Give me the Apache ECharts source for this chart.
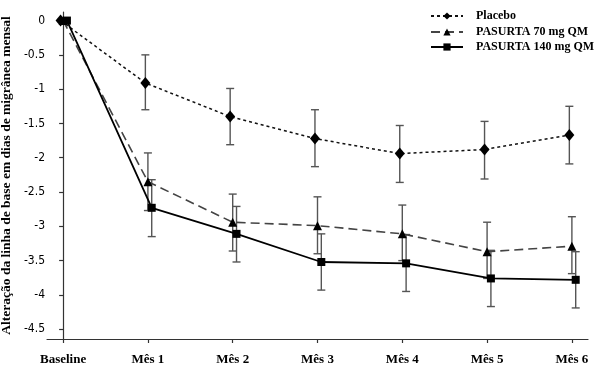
<!DOCTYPE html>
<html>
<head>
<meta charset="utf-8">
<script src="https://cdn.jsdelivr.net/npm/echarts@6/dist/echarts.min.js"></script>
<style>
html,body{margin:0;padding:0;background:#fff;}
#c{width:599px;height:370px;}
</style>
</head>
<body>
<div id="c"></div>
<script>
var categories = ['Baseline', 'Mês 1', 'Mês 2', 'Mês 3', 'Mês 4', 'Mês 5', 'Mês 6'];
var yTicks = [0, -0.5, -1, -1.5, -2, -2.5, -3, -3.5, -4, -4.5];
var seriesNames = ['Placebo', 'PASURTA 70 mg QM', 'PASURTA 140 mg QM'];

var placeboMean = [0, -0.91, -1.40, -1.72, -1.94, -1.88, -1.67];
var placeboHigh = [null, -0.50, -0.99, -1.30, -1.53, -1.47, -1.25];
var placeboLow  = [null, -1.30, -1.81, -2.13, -2.36, -2.31, -2.09];

var p70Mean = [0, -2.35, -2.94, -2.99, -3.11, -3.37, -3.29];
var p70High = [null, -1.93, -2.53, -2.57, -2.69, -2.94, -2.86];
var p70Low  = [null, -2.77, -3.36, -3.40, -3.50, -3.76, -3.69];

var p140Mean = [0, -2.73, -3.11, -3.52, -3.54, -3.76, -3.78];
var p140High = [null, -2.32, -2.71, -3.11, -3.12, -3.35, -3.37];
var p140Low  = [null, -3.15, -3.52, -3.93, -3.95, -4.17, -4.19];

// horizontal dodge of each group (style, in category units)
var offsets = [-0.03, 0.0, 0.045];
// legend row tops (layout)
var legendTops = [10, 26, 41];

function linePoints(mean, off) {
  return mean.map(function (v, i) { return [i + off, v]; });
}
function errPoints(high, low, off) {
  var out = [];
  for (var i = 0; i < high.length; i++) {
    if (high[i] !== null && low[i] !== null) out.push([i + off, high[i], low[i]]);
  }
  return out;
}
function errSeries(high, low, off) {
  return {
    type: 'custom',
    silent: true,
    z: 1,
    data: errPoints(high, low, off),
    encode: { x: 0, y: [1, 2] },
    renderItem: function (params, api) {
      var x = api.value(0);
      var hi = api.coord([x, api.value(1)]);
      var lo = api.coord([x, api.value(2)]);
      var cw = 4;
      var st = { stroke: '#555', lineWidth: 1.4, fill: null };
      return {
        type: 'group',
        children: [
          { type: 'line', shape: { x1: hi[0], y1: hi[1], x2: lo[0], y2: lo[1] }, style: st },
          { type: 'line', shape: { x1: hi[0] - cw, y1: hi[1], x2: hi[0] + cw, y2: hi[1] }, style: st },
          { type: 'line', shape: { x1: lo[0] - cw, y1: lo[1], x2: lo[0] + cw, y2: lo[1] }, style: st }
        ]
      };
    }
  };
}

var serif = '"Liberation Serif", "Times New Roman", serif';
var narrow = '"Liberation Sans Narrow", "DejaVu Sans Condensed", "Liberation Sans", sans-serif';

var legends = seriesNames.map(function (n, i) {
  return {
    data: [n],
    orient: 'vertical',
    left: 430,
    top: legendTops[i],
    padding: 0,
    itemWidth: 32,
    itemHeight: 9,
    textStyle: { fontFamily: serif, fontWeight: 'bold', fontSize: 12, color: '#000', padding: [0, 0, 0, 8] }
  };
});

var chart = echarts.init(document.getElementById('c'), null, { renderer: 'canvas' });
chart.setOption({
  animation: false,
  backgroundColor: '#fff',
  grid: { left: 47, right: 11, top: 12, bottom: 31, containLabel: false, outerBoundsMode: 'none' },
  legend: legends,
  xAxis: {
    type: 'value',
    min: -0.19,
    max: 6.19,
    splitLine: { show: false },
    axisLine: { onZero: false, lineStyle: { color: '#333', width: 1.2 } },
    axisTick: { show: true, length: 4, customValues: [0, 1, 2, 3, 4, 5, 6], lineStyle: { color: '#333', width: 1.2 } },
    axisLabel: {
      customValues: [0, 1, 2, 3, 4, 5, 6],
      margin: 14,
      fontFamily: serif, fontWeight: 'bold', fontSize: 13, color: '#000',
      formatter: function (v) { return categories[Math.round(v)]; }
    }
  },
  yAxis: {
    type: 'value',
    min: -4.643,
    max: 0.125,
    name: 'Alteração da linha de base em dias de migrânea mensal',
    nameLocation: 'middle',
    nameRotate: 90,
    nameGap: 28,
    nameTextStyle: { fontFamily: serif, fontWeight: 'bold', fontSize: 13.5, color: '#000' },
    splitLine: { show: false },
    axisLine: { show: true, lineStyle: { color: '#333', width: 1.2 } },
    axisTick: { show: true, length: 4, customValues: yTicks, lineStyle: { color: '#333', width: 1.2 } },
    axisLabel: {
      customValues: yTicks,
      margin: 2,
      fontFamily: narrow, fontSize: 12, color: '#000',
      formatter: function (v) { return String(v); }
    }
  },
  series: [
    errSeries(placeboHigh, placeboLow, offsets[0]),
    errSeries(p70High, p70Low, offsets[1]),
    errSeries(p140High, p140Low, offsets[2]),
    {
      name: seriesNames[0], type: 'line', z: 3,
      data: linePoints(placeboMean, offsets[0]),
      symbol: 'diamond', symbolSize: [10, 12], showSymbol: true,
      itemStyle: { color: '#000' },
      lineStyle: { color: '#111', width: 1.5, type: [3, 3] }
    },
    {
      name: seriesNames[1], type: 'line', z: 3,
      data: linePoints(p70Mean, offsets[1]),
      symbol: 'triangle', symbolSize: 9,
      itemStyle: { color: '#000' },
      lineStyle: { color: '#444', width: 1.6, type: [9, 5] }
    },
    {
      name: seriesNames[2], type: 'line', z: 3,
      data: linePoints(p140Mean, offsets[2]),
      symbol: 'rect', symbolSize: 8,
      itemStyle: { color: '#000' },
      lineStyle: { color: '#000', width: 1.8, type: 'solid' }
    }
  ]
});
</script>
</body>
</html>
